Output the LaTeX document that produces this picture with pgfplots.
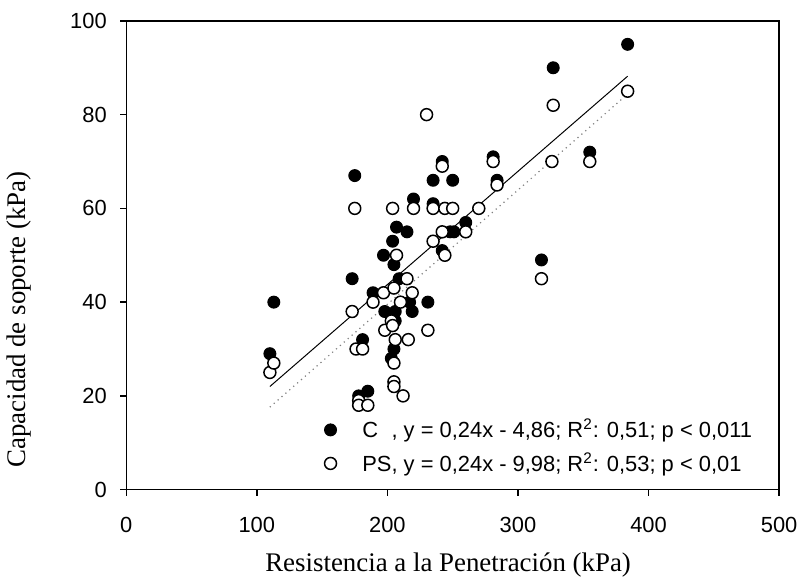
\documentclass[border=0pt]{standalone}
\usepackage{fontspec}
\setmainfont{Liberation Serif}
\setsansfont{Liberation Sans}
\usepackage{pgfplots}
\usepackage{pgfplotstable}
\pgfplotsset{compat=1.18}

% C (filled) and PS (open)
\pgfplotstableread{
x y
110 29
113 40
173 45
175 67
178 20
181 32
185 21
189 42
197 50
198 38
203 28
204 53
205 30
205 48
206 38
206 36
207 56
209 45
215 55
217 40
219 38
220 62
231 40
235 66
235 61
242 70
242 51
248 55
251 55
250 66
260 57
281 71
284 66
318 49
327 90
355 72
384 95
}\datC
\pgfplotstableread{
x y
110 25
113 27
173 38
175 60
176 30
178 19
178 18
181 30
185 18
189 40
197 42
198 34
203 36
204 35
204 60
205 43
205 27
205 23
205 22
206 32
207 50
210 40
212 20
215 45
216 32
219 42
220 60
230 80
231 34
235 60
235 53
242 69
242 55
244 60
244 50
250 60
260 55
270 60
281 70
284 65
318 45
326 70
327 82
355 70
384 85
}\datPS

\begin{document}
\begin{tikzpicture}
\begin{axis}[
  scale only axis, width=328pt, height=235.5pt,
  xmin=0, xmax=500, ymin=0, ymax=100,
  xtick={0,100,...,500}, ytick={0,20,...,100},
  xtick pos=bottom, ytick pos=left, tick align=outside,
  major tick length=3pt,
  axis line style={line width=0.75pt},
  tick style={line width=0.75pt, black},
  /pgf/number format/assume math mode=true,
  tick label style={font=\sffamily\fontsize{11}{13}\selectfont},
  xticklabel style={yshift=-7.5pt},
  yticklabel style={xshift=-3.3pt},
  xlabel={Resistencia a la Penetración (kPa)},
  ylabel={Capacidad de soporte (kPa)},
  label style={font=\fontsize{13.5}{16}\selectfont},
  xlabel style={at={(axis description cs:0.493,-0.1614)}, anchor=center},
  ylabel style={at={(axis description cs:-0.1646,0.363)}, anchor=center},
  legend style={draw=none, fill=none, font=\sffamily\fontsize{11}{13}\selectfont,
    at={(axis cs:147,1.5)}, anchor=south west, row sep=2pt,
    /tikz/every odd column/.append style={column sep=11pt}},
  legend cell align=left,
  legend image code/.code={\draw[mark repeat=2,mark phase=2,#1] plot coordinates {(-3pt,0pt)(0pt,0pt)(3pt,0pt)};},
]
\addplot[black, line width=0.5pt, forget plot] coordinates {(110,22.0) (384,88.2)};
\addplot[gray, line width=0.6pt, dotted, forget plot] coordinates {(110,17.6) (384,84.4)};
\addplot[only marks, mark=*, mark size=3pt, mark options={fill=black, draw=black, line width=0.5pt}] table {\datC};
\addlegendentry{\rlap{C}\hphantom{PS}, y = 0,24x - 4,86; R\textsuperscript{2}: 0,51; p < 0,011}
\addplot[only marks, mark=*, mark size=3pt, mark options={fill=white, draw=black, line width=0.75pt}] table {\datPS};
\addlegendentry{PS, y = 0,24x - 9,98; R\textsuperscript{2}: 0,53; p < 0,01}
\end{axis}
\path (current axis.south west) ++(-62pt,-46.5pt) rectangle ++(402pt,292.5pt);
\end{tikzpicture}
\end{document}
